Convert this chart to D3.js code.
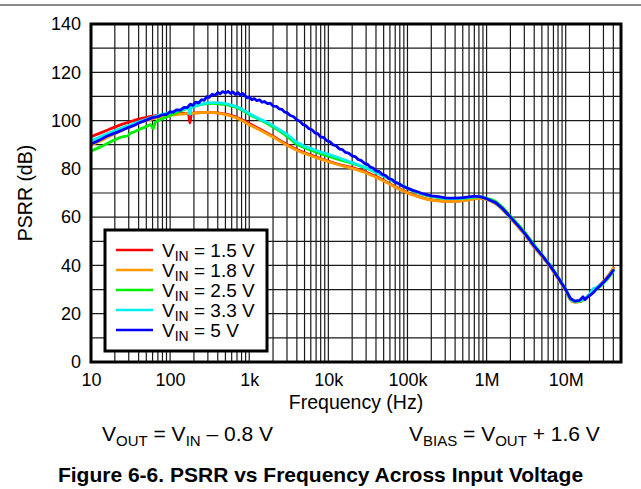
<!DOCTYPE html>
<html>
<head>
<meta charset="utf-8">
<script src="https://cdn.jsdelivr.net/npm/d3@7"></script>
<style>
  html, body { margin: 0; padding: 0; background: #fff; }
  svg { display: block; font-family: "Liberation Sans", Arial, Helvetica, sans-serif; }
</style>
</head>
<body>
<script>
// ---------------- DATA ----------------
const freqHz = [
  10, 13, 16, 20, 25,
  29, 31, 35, 40, 50,
  57, 61, 65, 80, 100,
  120, 150, 170, 178, 186,
  220, 260, 300, 350, 420,
  500, 600, 700, 850, 1000,
  1300, 1600, 2000, 2500, 3000,
  4000, 5000, 6500, 8000, 10000,
  13000, 16000, 20000, 25000, 30000,
  40000, 50000, 65000, 80000, 100000,
  130000, 160000, 200000, 250000, 300000,
  400000, 500000, 600000, 700000, 850000,
  1e6, 1.3e6, 1.6e6, 2e6, 2.5e6,
  3e6, 4e6, 5e6, 6.5e6, 8e6,
  1e7, 1.15e7, 1.3e7, 1.5e7, 1.65e7,
  1.75e7, 1.85e7, 2e7, 2.2e7, 2.4e7,
  2.7e7, 3e7, 3.5e7, 4e7
];

const psrrVin15 = [
  93.3, 94.8, 96.0, 97.3, 98.5,
  99.2, 99.5, 100.0, 100.6, 101.3,
  101.7, 101.9, 102.0, 102.3, 102.6,
  102.8, 103.0, 103.0, 99.0, 103.0,
  103.2, 103.3, 103.4, 103.3, 103.1,
  102.7, 102.1, 101.3, 100.0, 98.8,
  96.8, 95.2, 93.5, 91.6, 90.1,
  88.0, 86.7, 85.3, 84.2, 83.2,
  82.0, 81.2, 80.5, 79.5, 78.6,
  76.8, 75.2, 73.2, 71.7, 70.2,
  68.8, 67.9, 67.2, 66.8, 66.6,
  66.6, 66.9, 67.3, 67.7, 67.9,
  67.4, 65.6, 63.1, 59.6, 56.1,
  53.1, 47.6, 43.9, 39.1, 34.6,
  29.7, 25.9, 24.9, 25.1, 25.7,
  26.2, 26.9, 27.9, 29.0, 30.3,
  31.9, 33.4, 36.0, 38.9
];

const psrrVin18 = [
  89.8, 91.5, 93.0, 94.5, 96.0,
  97.0, 97.3, 98.2, 99.0, 100.0,
  100.5, 100.8, 101.0, 101.6, 102.1,
  102.5, 102.8, 103.0, 103.0, 103.0,
  103.2, 103.3, 103.4, 103.3, 103.0,
  102.5, 101.8, 101.0, 99.6, 98.3,
  96.4, 94.9, 93.2, 91.3, 89.8,
  87.7, 86.4, 85.0, 84.0, 83.0,
  81.8, 81.0, 80.2, 79.2, 78.3,
  76.5, 75.0, 73.0, 71.5, 70.0,
  68.7, 67.8, 67.1, 66.7, 66.5,
  66.5, 66.8, 67.2, 67.6, 67.8,
  67.3, 65.5, 63.0, 59.5, 56.0,
  53.0, 47.5, 43.8, 39.0, 34.5,
  29.6, 25.8, 24.8, 25.0, 25.6,
  26.1, 26.8, 27.8, 28.9, 30.2,
  31.8, 33.3, 35.9, 38.8
];

const psrrVin25 = [
  87.4, 89.0, 90.5, 92.0, 93.3,
  93.6, 94.6, 95.3, 96.2, 97.5,
  98.3, 96.6, 99.2, 100.8, 102.2,
  103.3, 104.5, 105.2, 105.4, 105.6,
  106.3, 106.8, 107.0, 107.1, 106.9,
  106.6, 106.0, 105.3, 104.0, 102.5,
  100.7, 99.2, 97.3, 95.3, 93.5,
  90.2, 88.8, 87.3, 86.3, 85.3,
  84.0, 83.2, 82.3, 81.2, 80.4,
  78.5, 77.0, 75.0, 73.5, 71.9,
  70.3, 69.3, 68.6, 68.0, 67.8,
  67.7, 67.8, 68.0, 68.3, 68.4,
  67.8, 66.5, 64.0, 60.5, 57.0,
  54.0, 48.5, 44.5, 39.7, 35.2,
  30.0, 26.0, 25.0, 25.2, 25.8,
  26.3, 27.0, 27.8, 28.7, 29.8,
  31.2, 32.6, 35.0, 37.6
];

const psrrVin33 = [
  91.7, 93.2, 94.5, 95.8, 97.0,
  97.8, 98.1, 98.8, 99.5, 100.5,
  101.2, 101.5, 101.8, 102.6, 103.3,
  104.0, 104.8, 105.2, 102.6, 105.5,
  106.3, 106.9, 107.3, 107.4, 107.3,
  107.0, 106.4, 105.7, 104.3, 102.9,
  101.0, 99.6, 97.9, 95.9, 94.3,
  91.0, 89.4, 88.0, 87.0, 86.0,
  84.8, 83.7, 82.6, 81.4, 80.5,
  78.6, 77.1, 75.1, 73.6, 72.0,
  70.5, 69.5, 68.7, 68.2, 67.9,
  67.8, 67.9, 68.2, 68.4, 68.4,
  67.6, 65.8, 63.3, 59.8, 56.5,
  53.5, 48.0, 44.3, 39.5, 35.0,
  30.0, 26.3, 25.2, 25.3, 26.0,
  26.3, 26.9, 28.0, 30.2, 30.8,
  31.8, 33.0, 35.5, 38.0
];

// the 5-V trace is noisier, so it is read on a denser frequency list
const freqHz5V = [
  10, 13, 16, 20, 25, 30, 35, 40, 50, 60,
  70, 80, 90, 100, 110, 120, 135, 150, 165, 180,
  195, 210, 230, 250, 270, 290, 310, 340, 370, 400,
  430, 460, 500, 540, 580, 620, 670, 720, 770, 830,
  890, 950, 1000, 1080, 1160, 1250, 1350, 1450, 1550, 1700,
  1850, 2000, 2200, 2400, 2600, 2800, 3000, 3300, 3600, 4000,
  4400, 4800, 5200, 5700, 6200, 6800, 7400, 8000, 8800, 9600,
  10500, 11500, 12500, 13700, 15000, 16500, 18000, 20000, 22000, 24000,
  26000, 28500, 31000, 34000, 37000, 40000, 44000, 48000, 53000, 58000,
  64000, 70000, 77000, 85000, 93000, 100000, 115000, 130000, 150000, 175000,
  200000, 250000, 300000, 400000, 500000, 600000, 700000, 850000, 1e6, 1.3e6,
  1.6e6, 2e6, 2.5e6, 3e6, 4e6, 5e6, 6.5e6, 8e6, 1e7, 1.15e7,
  1.3e7, 1.5e7, 1.65e7, 1.75e7, 1.85e7, 2e7, 2.2e7, 2.4e7, 2.7e7, 3e7,
  3.5e7, 4e7
];

const psrrVin50 = [
  90.3, 92.0, 93.6, 94.8, 96.1, 97.2, 98.0, 99.0, 100.2, 101.2,
  101.6, 102.4, 102.6, 103.6, 103.5, 104.4, 104.3, 105.5, 105.4, 106.8,
  106.3, 107.6, 107.3, 108.7, 108.4, 109.9, 109.6, 110.9, 110.5, 111.6,
  111.1, 112.0, 111.4, 112.1, 111.3, 111.9, 110.8, 111.6, 110.6, 111.2,
  110.1, 109.4, 109.8, 108.6, 109.1, 108.2, 108.6, 107.6, 107.9, 107.0,
  107.2, 106.0, 105.9, 104.8, 104.6, 103.5, 103.3, 102.1, 101.7, 100.3,
  99.6, 98.3, 97.9, 96.6, 96.2, 94.9, 94.5, 93.2, 92.9, 91.6,
  91.2, 89.9, 89.6, 88.3, 88.0, 86.8, 86.5, 85.4, 85.0, 83.8,
  83.5, 82.3, 82.0, 80.7, 80.3, 79.2, 78.9, 77.7, 77.2, 76.0,
  75.6, 74.4, 74.0, 73.0, 72.5, 72.0, 71.2, 70.6, 69.9, 69.3,
  68.8, 68.5, 68.0, 67.9, 68.1, 68.4, 68.7, 68.4, 67.6, 66.0,
  63.5, 60.0, 56.5, 53.5, 48.0, 44.3, 39.4, 35.0, 30.0, 26.3,
  25.2, 25.5, 27.0, 25.8, 26.6, 27.5, 28.5, 30.0, 31.5, 33.0,
  35.5, 38.0
];

const seriesVin = ["1.5", "1.8", "2.5", "3.3", "5"];
const seriesColors = ["#ff0000", "#ff9900", "#00ee00", "#00f0f0", "#0000ff"];
const seriesFreqs = [freqHz, freqHz, freqHz, freqHz, freqHz5V];
const seriesValues = [psrrVin15, psrrVin18, psrrVin25, psrrVin33, psrrVin50];

const yTickValues = [0, 20, 40, 60, 80, 100, 120, 140];
const xTickValues = [10, 100, 1e3, 1e4, 1e5, 1e6, 1e7];
const xTickLabels = ["10", "100", "1k", "10k", "100k", "1M", "10M"];

// ---------------- CHART ----------------
const W = 641, H = 489;
const L = 91, R = 621, T = 24, B = 362;

const svg = d3.select("body").append("svg").attr("width", W).attr("height", H);

// top rule
svg.append("rect").attr("x", 0).attr("y", 4).attr("width", W).attr("height", 2).attr("fill", "#8a8a8a");

const x = d3.scaleLog().domain([10, 5e7]).range([L, R]);
const y = d3.scaleLinear().domain([0, 140]).range([B, T]);

svg.append("defs").append("clipPath").attr("id", "plotclip")
  .append("rect").attr("x", L).attr("y", T).attr("width", R - L).attr("height", B - T);

// grid
const grid = svg.append("g");
grid.selectAll("line.v").data(x.ticks()).enter().append("line")
  .attr("x1", d => x(d)).attr("x2", d => x(d)).attr("y1", T).attr("y2", B)
  .attr("stroke", "#1a1a1a").attr("stroke-width", 1.2);
grid.selectAll("line.h").data(y.ticks(14)).enter().append("line")
  .attr("x1", L).attr("x2", R).attr("y1", d => y(d)).attr("y2", d => y(d))
  .attr("stroke", "#1a1a1a").attr("stroke-width", 1.2);

// curves
const curves = svg.append("g").attr("clip-path", "url(#plotclip)");
seriesValues.forEach((vals, i) => {
  const fr = seriesFreqs[i];
  const n = Math.min(vals.length, fr.length);
  const pts = d3.range(n).map(k => [fr[k], vals[k]]);
  const line = d3.line()
    .x(d => x(d[0])).y(d => y(d[1]))
    .curve(i === 4 ? d3.curveLinear : d3.curveMonotoneX);
  curves.append("path").datum(pts)
    .attr("d", line)
    .attr("fill", "none")
    .attr("stroke", seriesColors[i])
    .attr("stroke-width", 2.8)
    .attr("stroke-linejoin", "round")
    .attr("stroke-linecap", "round");
});

// border
svg.append("rect").attr("x", L).attr("y", T).attr("width", R - L).attr("height", B - T)
  .attr("fill", "none").attr("stroke", "#000").attr("stroke-width", 3);

// axes
const yAxis = svg.append("g").attr("transform", `translate(${L},0)`)
  .call(d3.axisLeft(y).tickValues(yTickValues).tickSize(0).tickPadding(10));
yAxis.select(".domain").remove();
yAxis.selectAll("text").attr("font-size", 18).attr("fill", "#000")
  .attr("font-family", "'Liberation Sans', Arial, sans-serif");

const xAxis = svg.append("g").attr("transform", `translate(0,${B})`)
  .call(d3.axisBottom(x).tickValues(xTickValues).tickSize(0).tickPadding(11)
    .tickFormat((d, i) => xTickLabels[i]));
xAxis.select(".domain").remove();
xAxis.selectAll("text").attr("font-size", 18).attr("fill", "#000")
  .attr("font-family", "'Liberation Sans', Arial, sans-serif");

// axis titles
svg.append("text").attr("x", (L + R) / 2).attr("y", 409)
  .attr("text-anchor", "middle").attr("font-size", 19.5).text("Frequency (Hz)");
svg.append("text").attr("transform", `translate(32,${(T + B) / 2}) rotate(-90)`)
  .attr("text-anchor", "middle").attr("font-size", 19.5).text("PSRR (dB)");

// legend
const lg = svg.append("g");
lg.append("rect").attr("x", 105).attr("y", 230).attr("width", 162).attr("height", 121)
  .attr("fill", "#fff").attr("stroke", "#000").attr("stroke-width", 3);
seriesVin.forEach((v, i) => {
  const cy = 250 + i * 20;
  lg.append("line").attr("x1", 116).attr("x2", 153).attr("y1", cy).attr("y2", cy)
    .attr("stroke", seriesColors[i]).attr("stroke-width", 2.5);
  const t = lg.append("text").attr("x", 162).attr("y", cy + 7).attr("font-size", 19);
  t.append("tspan").text("V");
  t.append("tspan").attr("font-size", 14).attr("dy", 4).text("IN");
  t.append("tspan").attr("dy", -4).text(` = ${v} V`);
});

// conditions
function subText(xp, yp, parts) {
  const t = svg.append("text").attr("x", xp).attr("y", yp).attr("font-size", 21);
  let shifted = false;
  parts.forEach(p => {
    const s = t.append("tspan").text(p.t);
    if (p.sub) { s.attr("font-size", 15).attr("dy", shifted ? 0 : 5); shifted = true; }
    else if (shifted) { s.attr("dy", -5); shifted = false; }
  });
}
subText(102, 441, [{t: "V"}, {t: "OUT", sub: true}, {t: " = V"}, {t: "IN", sub: true}, {t: " \u2013 0.8 V"}]);
subText(409, 441, [{t: "V"}, {t: "BIAS", sub: true}, {t: " = V"}, {t: "OUT", sub: true}, {t: " + 1.6 V"}]);

// caption
svg.append("text").attr("x", W / 2).attr("y", 482).attr("text-anchor", "middle")
  .attr("font-size", 21).attr("font-weight", "bold")
  .text("Figure 6-6. PSRR vs Frequency Across Input Voltage");
</script>
</body>
</html>
